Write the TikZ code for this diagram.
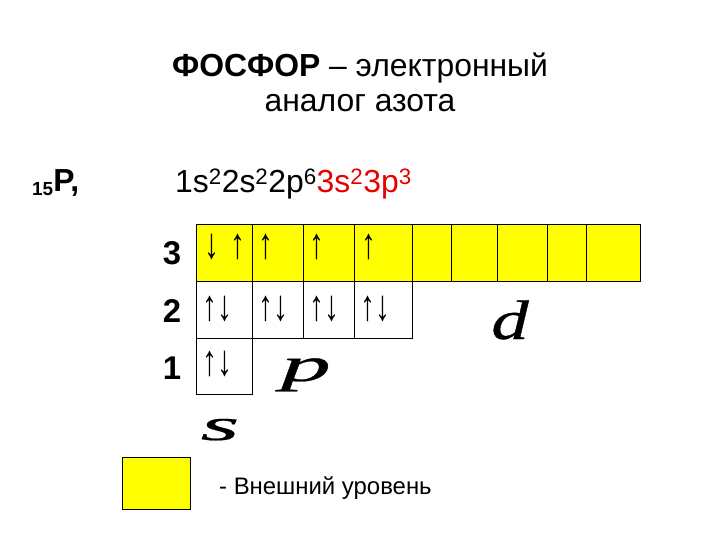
\documentclass[tikz,border=0pt]{standalone}
\usepackage{fontspec}
\setmainfont{Liberation Sans}
\newfontfamily\serifit[ItalicFeatures={FakeBold=0.5}]{Liberation Serif}
\definecolor{lvl}{RGB}{255,255,0}
\definecolor{cfgred}{RGB}{230,0,0}
\newcommand{\tallarr}[1]{\scalebox{1}[1.45]{#1}}
\tikzset{
  cell/.style={draw=black, line width=0.9bp, inner sep=0pt},
  outer/.style={cell, fill=lvl},
  arr/.style={anchor=west, inner sep=0pt, font=\fontsize{30}{30}\selectfont},
  lvlnum/.style={inner sep=0pt, font=\bfseries\fontsize{33}{33}\selectfont},
  orb/.style={anchor=base, inner sep=0pt, font=\serifit\itshape\fontsize{50}{50}\selectfont}
}
\begin{document}
\begin{tikzpicture}[x=1bp,y=-1bp]
\useasboundingbox (0,0) rectangle (720,540);
% title
\node (t1) at (360,68) {\fontsize{32}{36}\selectfont\textbf{ФОСФОР} – электронный};
\node (t2) at (360,103) {\fontsize{32}{36}\selectfont аналог азота};
% element
\node[anchor=base west, inner sep=0pt] (el) at (32,192) {\bfseries\raisebox{-4bp}{\fontsize{19}{19}\selectfont 15}\fontsize{32}{32}\selectfont P,};
% configuration
\node[anchor=base west, inner sep=0pt] (cfg) at (175,193) {\fontsize{32}{32}\selectfont 1s\textsuperscript{2}2s\textsuperscript{2}2p\textsuperscript{6}\textcolor{cfgred}{3s\textsuperscript{2}3p\textsuperscript{3}}};
% level 3 (outer, yellow)
\draw[outer] (196,224) rectangle (252,281);
\draw[outer] (252,224) rectangle (303,281);
\draw[outer] (303,224) rectangle (354,281);
\draw[outer] (354,224) rectangle (412,281);
\draw[outer] (412,224) rectangle (451,281);
\draw[outer] (451,224) rectangle (497,281);
\draw[outer] (497,224) rectangle (547,281);
\draw[outer] (547,224) rectangle (586,281);
\draw[outer] (586,224) rectangle (640,281);
% level 2
\draw[cell] (196,281) rectangle (252,338);
\draw[cell] (252,281) rectangle (303,338);
\draw[cell] (303,281) rectangle (354,338);
\draw[cell] (354,281) rectangle (412,338);
% level 1
\draw[cell] (196,338) rectangle (252,394);
% level numbers
\node[lvlnum] (n3) at (172,253) {3};
\node[lvlnum] (n2) at (172,311) {2};
\node[lvlnum] (n1) at (172,368) {1};
% electrons
\node[arr] (e3s) at (204,247) {\tallarr{↓\hspace{11bp}↑}};
\node[arr] (e3p1) at (258,247) {\tallarr{↑}};
\node[arr] (e3p2) at (309,247) {\tallarr{↑}};
\node[arr] (e3p3) at (361,247) {\tallarr{↑}};
\node[arr] (e2s) at (202,309) {\tallarr{↑↓}};
\node[arr] (e2p1) at (258,309) {\tallarr{↑↓}};
\node[arr] (e2p2) at (309,309) {\tallarr{↑↓}};
\node[arr] (e2p3) at (360,309) {\tallarr{↑↓}};
\node[arr] (e1s) at (202,364) {\tallarr{↑↓}};
% sublevel letters
\node[orb] (ld) at (510,339) {\scalebox{1.5}[1.12]{d}};
\node[orb] (lp) at (306,381) {\scalebox{2.0}[0.97]{p}};
\node[orb] (ls) at (220,440) {\scalebox{2.0}[0.9]{s}};
% legend
\draw[outer] (122,457) rectangle (190,509);
\node[anchor=west, inner sep=0pt] (leg) at (219,488) {\fontsize{24}{28}\selectfont - Внешний уровень};
\end{tikzpicture}
\end{document}
